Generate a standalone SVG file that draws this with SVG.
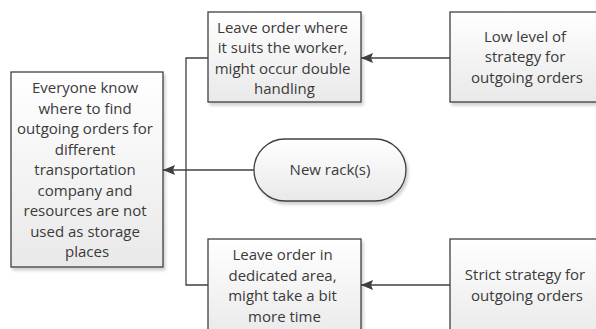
<svg xmlns="http://www.w3.org/2000/svg" width="596" height="329" viewBox="0 0 596 329">
  <defs>
    <linearGradient id="boxFill" x1="0" y1="0" x2="0" y2="1">
      <stop offset="0" stop-color="#ffffff"/>
      <stop offset="1" stop-color="#e9e9e9"/>
    </linearGradient>
    <filter id="shadow" x="-10%" y="-10%" width="130%" height="130%">
      <feGaussianBlur in="SourceAlpha" stdDeviation="1.5"/>
      <feOffset dx="2" dy="3" result="off"/>
      <feComponentTransfer><feFuncA type="linear" slope="0.18"/></feComponentTransfer>
      <feMerge><feMergeNode/><feMergeNode in="SourceGraphic"/></feMerge>
    </filter>
    <marker id="arrow" viewBox="0 0 12 10" refX="12" refY="5" markerWidth="12" markerHeight="10" markerUnits="userSpaceOnUse" orient="auto">
      <path d="M0,0 L12,5 L0,10 L2,5 Z" fill="#404040"/>
    </marker>
  </defs>
  <style>
    .box { fill: url(#boxFill); stroke: #404040; stroke-width: 1.3; filter: url(#shadow); }
    .lbl { font-family: "Open Sans", "Liberation Sans", sans-serif; font-size: 15px; fill: #3a3a3a; text-anchor: middle; }
    .conn { fill: none; stroke: #404040; stroke-width: 1.3; }
  </style>
  <rect width="596" height="329" fill="#ffffff"/>

  <g id="connectors">
    <path class="conn" d="M450,58 L361,58" marker-end="url(#arrow)"/>
    <path class="conn" d="M450,285 L361,285" marker-end="url(#arrow)"/>
    <path class="conn" d="M208,58 L186,58 L186,285 L208,285"/>
    <path class="conn" d="M254,170 L163,170" marker-end="url(#arrow)"/>
  </g>

  <g id="goal">
    <rect class="box" x="11" y="72" width="152" height="195"/>
    <text class="lbl">
      <tspan x="87" y="93">Everyone know</tspan>
      <tspan x="87" y="113.5">where to find</tspan>
      <tspan x="87" y="134">outgoing orders for</tspan>
      <tspan x="87" y="154.5">different</tspan>
      <tspan x="87" y="175">transportation</tspan>
      <tspan x="87" y="195.5">company and</tspan>
      <tspan x="87" y="216">resources are not</tspan>
      <tspan x="87" y="236.5">used as storage</tspan>
      <tspan x="87" y="257">places</tspan>
    </text>
  </g>

  <g id="leave-anywhere">
    <rect class="box" x="208" y="12" width="153" height="90"/>
    <text class="lbl">
      <tspan x="284.5" y="32.5">Leave order where</tspan>
      <tspan x="284.5" y="53">it suits the worker,</tspan>
      <tspan x="284.5" y="73.5">might occur double</tspan>
      <tspan x="284.5" y="94">handling</tspan>
    </text>
  </g>

  <g id="low-strategy">
    <rect class="box" x="450" y="12" width="153" height="90"/>
    <text class="lbl">
      <tspan x="527" y="41.5">Low level of</tspan>
      <tspan x="527" y="62">strategy for</tspan>
      <tspan x="527" y="82.5">outgoing orders</tspan>
    </text>
  </g>

  <g id="new-racks">
    <rect class="box" x="254" y="139" width="152" height="62" rx="31" ry="31"/>
    <text class="lbl" x="330" y="175">New rack(s)</text>
  </g>

  <g id="leave-dedicated">
    <rect class="box" x="208" y="239" width="153" height="100"/>
    <text class="lbl">
      <tspan x="284.5" y="260">Leave order in</tspan>
      <tspan x="284.5" y="280.5">dedicated area,</tspan>
      <tspan x="284.5" y="301">might take a bit</tspan>
      <tspan x="284.5" y="321.5">more time</tspan>
    </text>
  </g>

  <g id="strict-strategy">
    <rect class="box" x="450" y="239" width="153" height="100"/>
    <text class="lbl">
      <tspan x="527" y="280">Strict strategy for</tspan>
      <tspan x="527" y="300.5">outgoing orders</tspan>
    </text>
  </g>
</svg>
